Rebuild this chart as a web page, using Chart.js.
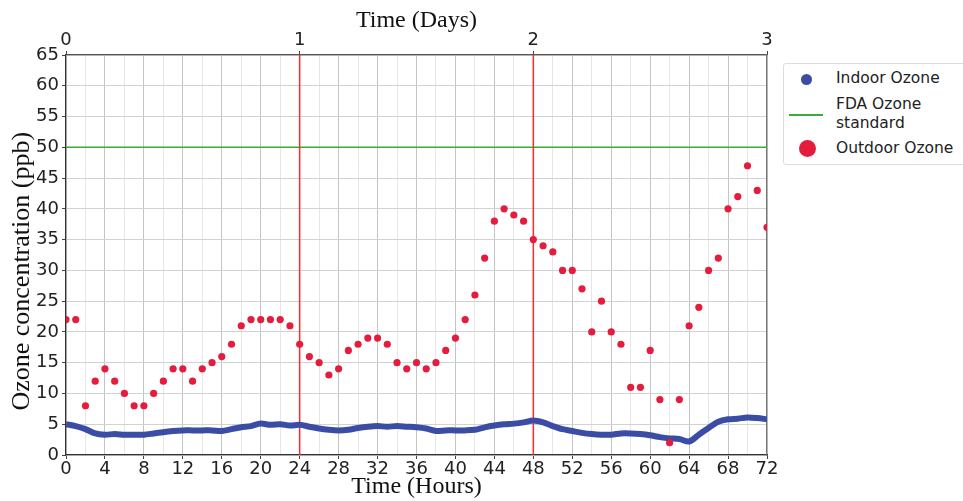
<!DOCTYPE html>
<html>
<head>
<meta charset="utf-8">
<script src="https://cdn.jsdelivr.net/npm/chart.js@4.4.1/dist/chart.umd.min.js"></script>
<style>
  html, body { margin: 0; padding: 0; background: #fff; }
  #wrap { position: relative; width: 963px; height: 501px; overflow: hidden; }
  #legend { position: absolute; left: 783px; top: 63px; width: 200px; height: 100px;
    border: 1px solid #dcdcdc; border-radius: 3px; background: #fff;
    font-family: "DejaVu Sans", sans-serif; font-size: 15.5px; color: #222; }
  .item { position: absolute; left: 52px; line-height: 19px; white-space: nowrap; }
  .mk { position: absolute; }
</style>
</head>
<body>
<div id="wrap">
  <canvas id="c" width="963" height="501"></canvas>
  <div id="legend">
    <div class="mk" style="left:17px;top:10px;width:11px;height:11px;border-radius:50%;background:#3a4ca4"></div>
    <div class="item" style="top:5px">Indoor Ozone</div>
    <div class="mk" style="left:5px;top:50px;width:34px;height:1.5px;background:#3cab3c"></div>
    <div class="item" style="top:31px">FDA Ozone<br>standard</div>
    <div class="mk" style="left:15px;top:76px;width:17px;height:17px;border-radius:50%;background:#e41d3e"></div>
    <div class="item" style="top:75px">Outdoor Ozone</div>
  </div>
</div>
<script>
const hours = [0,1,2,3,4,5,6,7,8,9,10,11,12,13,14,15,16,17,18,19,20,21,22,23,24,25,26,27,28,29,30,31,32,33,34,35,36,37,38,39,40,41,42,43,44,45,46,47,48,49,50,51,52,53,54,55,56,57,58,59,60,61,62,63,64,65,66,67,68,69,70,71,72];
const outdoorOzone = [22,22,8,12,14,12,10,8,8,10,12,14,14,12,14,15,16,18,21,22,22,22,22,21,18,16,15,13,14,17,18,19,19,18,15,14,15,14,15,17,19,22,26,32,38,40,39,38,35,34,33,30,30,27,20,25,20,18,11,11,17,9,2,9,21,24,30,32,40,42,47,43,37];
const indoorOzone = [5.0,4.7,4.2,3.5,3.3,3.4,3.3,3.3,3.3,3.5,3.7,3.9,4.0,4.0,4.0,4.0,3.9,4.2,4.5,4.7,5.1,4.9,5.0,4.8,4.9,4.6,4.3,4.1,4.0,4.1,4.4,4.6,4.7,4.6,4.7,4.6,4.5,4.3,3.9,4.0,4.0,4.0,4.1,4.5,4.8,5.0,5.1,5.3,5.6,5.3,4.7,4.2,3.9,3.6,3.4,3.3,3.3,3.5,3.5,3.4,3.2,2.9,2.7,2.6,2.2,3.3,4.4,5.4,5.8,5.9,6.1,6.0,5.8];
const fdaStandard = 50;
const dayMarkers = [24, 48];
const dayTicks = [0, 1, 2, 3];
const yTicks = [0,5,10,15,20,25,30,35,40,45,50,55,60,65];

const toXY = (xs, ys) => xs.map((x, i) => ({ x: x, y: ys[i] }));

const datasets = [
  { label: 'Indoor Ozone', type: 'line', data: toXY(hours, indoorOzone),
    borderColor: '#3a4ca4', borderWidth: 6, pointRadius: 0, tension: 0.3, order: 1 },
  { label: 'Outdoor Ozone', type: 'scatter', data: toXY(hours, outdoorOzone),
    backgroundColor: '#e41d3e', borderWidth: 0, pointRadius: 3.6, order: 0 },
  { label: 'FDA Ozone standard', type: 'line', data: [{ x: 0, y: fdaStandard }, { x: 72, y: fdaStandard }],
    borderColor: '#3cab3c', borderWidth: 1.5, pointRadius: 0, order: 3 }
];
dayMarkers.forEach(d => datasets.push({ label: 'day ' + d, type: 'line',
  data: [{ x: d, y: 0 }, { x: d, y: 65 }], borderColor: '#ff2a2a', borderWidth: 1.5, pointRadius: 0, order: 2 }));

const tickFont = { family: 'DejaVu Sans', size: 18 };
const titleFont = { family: 'Liberation Serif', size: 24 };

new Chart(document.getElementById('c'), {
  type: 'scatter',
  data: { datasets },
  options: {
    responsive: false, animation: false,
    layout: { padding: { left: 0, right: 196, top: 0, bottom: 0 } },
    plugins: { legend: { display: false }, tooltip: { enabled: false } },
    scales: {
      x: { type: 'linear', position: 'bottom', min: 0, max: 72,
        afterFit: s => { s.height = 46; },
        ticks: { stepSize: 2, font: tickFont, color: '#222', padding: 0, maxRotation: 0,
          autoSkip: false, callback: v => (v % 4 === 0 ? String(v) : '') },
        grid: { color: c => (c.tick && c.tick.value % 4 === 0 ? '#c4c4c4' : '#e6e6e6'),
          tickLength: 4, tickColor: c => (c.tick && c.tick.value % 4 === 0 ? '#444' : 'rgba(0,0,0,0)') },
        border: { color: '#333', width: 1.2 },
        title: { display: true, text: 'Time (Hours)', font: titleFont, color: '#111', padding: { top: -8, bottom: 0 } } },
      x2: { type: 'linear', position: 'top', min: 0, max: 3,
        afterFit: s => { s.height = 55; },
        afterBuildTicks: s => { s.ticks = dayTicks.map(v => ({ value: v })); },
        ticks: { font: tickFont, color: '#222', padding: 0 },
        grid: { drawOnChartArea: false, tickLength: 4, tickColor: '#444' },
        border: { color: '#555', width: 1.2 },
        title: { display: true, text: 'Time (Days)', font: titleFont, color: '#111', padding: { top: 6, bottom: 0 } } },
      y: { type: 'linear', position: 'left', min: 0, max: 65,
        afterFit: s => { s.width = 66; },
        afterBuildTicks: s => { s.ticks = yTicks.map(v => ({ value: v })); },
        ticks: { font: tickFont, color: '#222', padding: 3 },
        grid: { color: '#d2d2d2', tickLength: 4, tickColor: '#444' },
        border: { color: '#333', width: 1.2 },
        title: { display: true, text: 'Ozone concentration (ppb)\u00A0\u00A0\u00A0\u00A0\u00A0', font: { family: 'Liberation Serif', size: 26 }, color: '#111', padding: { top: 7, bottom: 0 } } },
      y2: { type: 'linear', position: 'right', min: 0, max: 65,
        afterFit: s => { s.width = 0; },
        ticks: { display: false },
        grid: { drawOnChartArea: false, drawTicks: false },
        border: { color: '#777', width: 1.2 } }
    }
  }
});
</script>
</body>
</html>
